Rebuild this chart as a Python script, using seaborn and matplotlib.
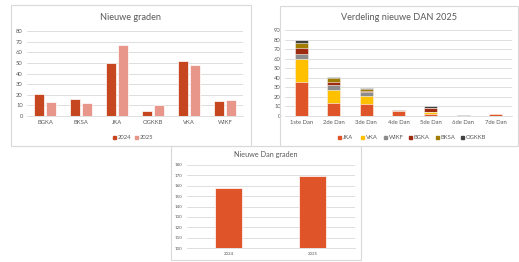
import matplotlib
matplotlib.use("Agg")
import matplotlib.pyplot as plt
import seaborn as sns
import pandas as pd
from matplotlib.patches import Rectangle

# ---- data ----
clubs = ["BGKA", "BKSA", "JKA", "OGKKB", "VKA", "WIKF"]
graden_2024 = [21, 16, 50, 5, 52, 14]
graden_2025 = [13, 12, 67, 10, 48, 15]

dan_levels = ["1ste Dan", "2de Dan", "3de Dan", "4de Dan", "5de Dan", "6de Dan", "7de Dan"]
stack_series = ["JKA", "VKA", "WIKF", "BGKA", "BKSA", "OGKKB"]
dan_JKA = [36, 14, 13, 5, 2, 0, 2]
dan_VKA = [24, 13, 8, 0, 2, 0, 0]
dan_WIKF = [5, 5, 4, 1, 0, 1, 0]
dan_BGKA = [6, 4, 1, 0, 4, 0, 0]
dan_BKSA = [5, 4, 2, 0, 0, 0, 0]
dan_OGKKB = [4, 1, 1, 0, 2, 0, 0]

years = ["2024", "2025"]
totals = [158, 169]

# ---- styling ----
W, H = 519, 262
fig = plt.figure(figsize=(W / 100, H / 100), dpi=100)
sns.set_style("white")
plt.rcParams["font.family"] = ["Lato", "DejaVu Sans"]
TXT = "#595959"
GRID = "#D9D9D9"

def fx(x): return x / W
def fy(y): return 1 - y / H

def ax_at(x0, y0, x1, y1):
    return fig.add_axes([fx(x0), fy(y1), fx(x1) - fx(x0), fy(y0) - fy(y1)])

def panel(x0, y0, x1, y1):
    fig.patches.append(Rectangle((fx(x0), fy(y1)), fx(x1) - fx(x0), fy(y0) - fy(y1),
                                 transform=fig.transFigure, fill=False,
                                 edgecolor="#D9D9D9", linewidth=0.8))

def style(ax, ymin, ymax, step, fs=4.2):
    ax.set_ylim(ymin, ymax)
    ax.set_yticks(range(ymin, ymax + 1, step))
    ax.yaxis.grid(True, color=GRID, linewidth=0.6)
    ax.set_axisbelow(True)
    for s in ["top", "right", "left"]:
        ax.spines[s].set_visible(False)
    ax.spines["bottom"].set_color(GRID)
    ax.spines["bottom"].set_linewidth(0.6)
    ax.tick_params(axis="both", length=0, labelsize=fs, colors=TXT, pad=3)
    ax.set_xlabel("")
    ax.set_ylabel("")

# ---- panel 1 ----
panel(11, 5, 251, 146)
ax1 = ax_at(27, 31, 243, 116)
df1 = pd.DataFrame({"club": clubs * 2,
                    "val": graden_2024 + graden_2025,
                    "jaar": ["2024"] * 6 + ["2025"] * 6})
sns.barplot(data=df1, x="club", y="val", hue="jaar", ax=ax1,
            palette=["#C5461F", "#E8968A"], width=0.66, gap=0.1, saturation=1,
            edgecolor="white", linewidth=0.5, legend=False)
style(ax1, 0, 80, 10)
ax1.set_xlim(-0.5, 5.5)
fig.text(fx(131), fy(17), "Nieuwe graden", ha="center", va="center", fontsize=6.6, color=TXT)
for i, (lab, col) in enumerate(zip(years, ["#C5461F", "#E8968A"])):
    xx = 113 + i * 22
    fig.patches.append(Rectangle((fx(xx), fy(139)), fx(3), fy(136) - fy(139),
                                 transform=fig.transFigure, color=col))
    fig.text(fx(xx + 4.5), fy(137.5), lab, ha="left", va="center", fontsize=4.2, color=TXT)

# ---- panel 2 ----
panel(280, 6, 518, 146)
ax2 = ax_at(285, 30, 512, 116)
colors2 = ["#E0542A", "#FFC000", "#8C8C8C", "#9E2B0F", "#A07C00", "#404040"]
series_vals = [dan_JKA, dan_VKA, dan_WIKF, dan_BGKA, dan_BKSA, dan_OGKKB]
bottom = [0] * len(dan_levels)
for name, vals, col in zip(stack_series, series_vals, colors2):
    tops = [b + v for b, v in zip(bottom, vals)]
    df2 = pd.DataFrame({"dan": dan_levels, "top": tops})
    sns.barplot(data=df2, x="dan", y="top", ax=ax2, color=col, width=0.4,
                edgecolor="white", linewidth=0.4, saturation=1)
    bottom = tops
# lower segments drawn on top of the cumulative taller bars
for k, c in enumerate(ax2.containers):
    for p in c:
        p.set_zorder(20 - k)
style(ax2, 0, 90, 10)
ax2.set_xlim(-0.5, 6.5)
fig.text(fx(399), fy(17), "Verdeling nieuwe DAN 2025", ha="center", va="center", fontsize=6.6, color=TXT)
lx = [338, 361, 384, 409, 436, 461]
for xx, lab, col in zip(lx, stack_series, colors2):
    fig.patches.append(Rectangle((fx(xx), fy(139)), fx(3), fy(136) - fy(139),
                                 transform=fig.transFigure, color=col))
    fig.text(fx(xx + 4.5), fy(137.5), lab, ha="left", va="center", fontsize=4.2, color=TXT)

# ---- panel 3 ----
panel(171, 146, 361, 260)
ax3 = ax_at(186.5, 165, 354.5, 248)
df3 = pd.DataFrame({"jaar": years, "tot": totals})
sns.barplot(data=df3, x="jaar", y="tot", ax=ax3, color="#E0542A", saturation=1,
            width=0.32, edgecolor="white", linewidth=0.5)
style(ax3, 100, 180, 10, fs=3.2)
ax3.set_xlim(-0.5, 1.5)
fig.text(fx(266), fy(155), "Nieuwe Dan graden", ha="center", va="center", fontsize=5.2, color=TXT)

fig.savefig("out.png", dpi=100, facecolor="white")
